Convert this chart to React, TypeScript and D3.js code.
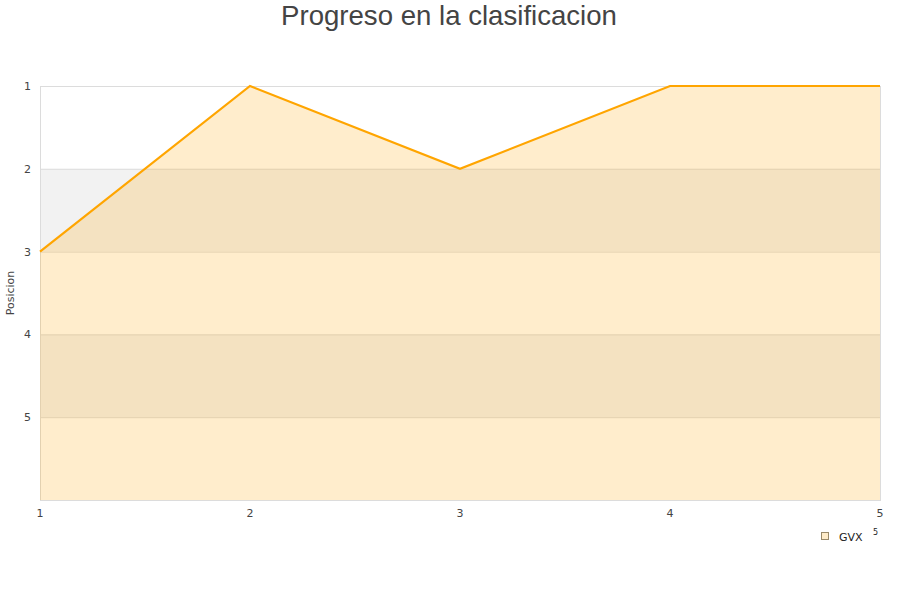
import React from "react";
import * as d3 from "d3";

// Jornadas and the team's position after each one
const rounds = [1, 2, 3, 4, 5];
const positions = [3, 1, 2, 1, 1];
const yTicks = [1, 2, 3, 4, 5];
const seriesName = "GVX";

const W = 900;
const H = 600;
const M = { left: 40, right: 20, top: 86, bottom: 100 };

export default function App() {
  const x = d3.scaleLinear().domain([1, 5]).range([M.left, W - M.right]);
  const y = d3.scaleLinear().domain([1, 6]).range([M.top, H - M.bottom]);

  const pts = rounds.map((r, i) => [r, positions[i]] as [number, number]);
  const line = d3
    .line<[number, number]>()
    .x((d) => x(d[0]))
    .y((d) => y(d[1]))(pts)!;
  const area = d3
    .area<[number, number]>()
    .x((d) => x(d[0]))
    .y0(y(6))
    .y1((d) => y(d[1]))(pts)!;

  const bands = [1, 2, 3, 4, 5];
  const font = "'DejaVu Sans', Verdana, sans-serif";

  return (
    <svg
      width={W}
      height={H}
      style={{ position: "absolute", left: 0, top: 0, background: "#fff" }}
    >
      <text
        x={449}
        y={25}
        textAnchor="middle"
        fontFamily="'Liberation Sans', Arial, sans-serif"
        fontSize={27.6}
        fill="#444"
      >
        Progreso en la clasificacion
      </text>

      {/* alternating row bands */}
      {bands.map((b, i) => (
        <rect
          key={b}
          x={x(1)}
          y={y(b)}
          width={x(5) - x(1)}
          height={y(b + 1) - y(b)}
          fill={i % 2 === 1 ? "#f2f2f2" : "#ffffff"}
        />
      ))}
      {yTicks.map((t) => (
        <line
          key={t}
          x1={x(1)}
          x2={x(5)}
          y1={y(t) + 0.5}
          y2={y(t) + 0.5}
          stroke="#dcdcdc"
        />
      ))}

      <rect
        x={x(1) + 0.5}
        y={y(1) + 0.5}
        width={x(5) - x(1)}
        height={y(6) - y(1)}
        fill="none"
        stroke="#dcdcdc"
      />

      <path d={area} fill="#ffa500" fillOpacity={0.2} />
      <path
        d={line}
        fill="none"
        stroke="#ffa500"
        strokeWidth={2.2}
        strokeLinejoin="miter"
      />

      {yTicks.map((t) => (
        <text
          key={t}
          x={31}
          y={y(t) + 4}
          textAnchor="end"
          fontFamily={font}
          fontSize={11}
          fill="#444"
        >
          {t}
        </text>
      ))}
      {rounds.map((r) => (
        <text
          key={r}
          x={x(r)}
          y={517}
          textAnchor="middle"
          fontFamily={font}
          fontSize={11}
          fill="#444"
        >
          {r}
        </text>
      ))}

      <text
        transform={`translate(14, ${(y(1) + y(6)) / 2}) rotate(-90)`}
        textAnchor="middle"
        fontFamily={font}
        fontSize={11}
        fill="#444"
      >
        Posicion
      </text>

      {/* legend */}
      <rect
        x={821.5}
        y={532.5}
        width={7}
        height={7}
        fill="#ffecc9"
        stroke="#9a8a6a"
      />
      <text x={839} y={541} fontFamily={font} fontSize={11} fill="#222">
        {seriesName}
      </text>
      <text x={873} y={535} fontFamily={font} fontSize={8} fill="#222">
        5
      </text>
    </svg>
  );
}
